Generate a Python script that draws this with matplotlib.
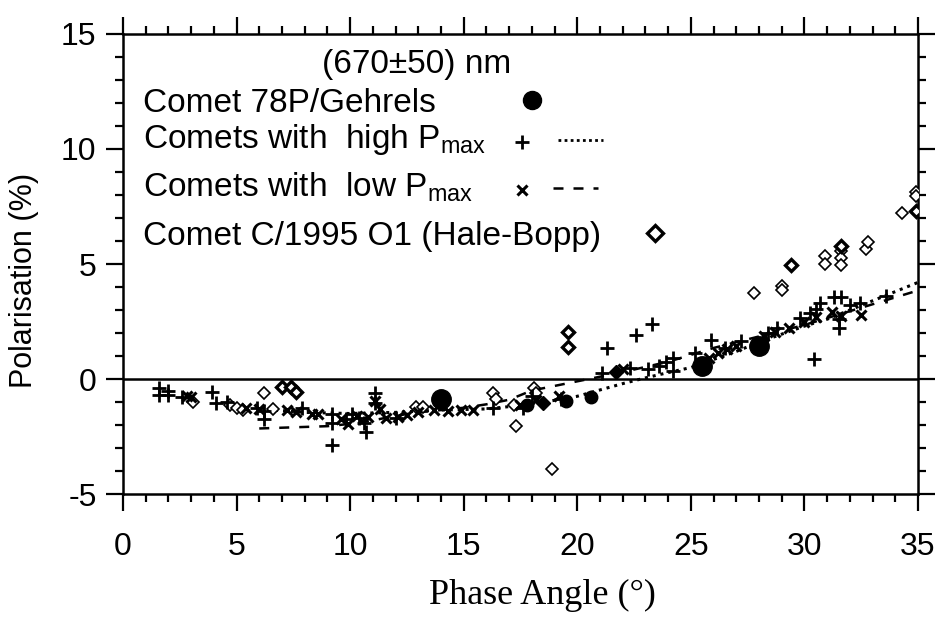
import matplotlib
matplotlib.use("Agg")
import matplotlib.pyplot as plt
from matplotlib.ticker import MultipleLocator

plt.rcParams['font.family'] = ['Liberation Sans', 'DejaVu Sans']
plt.rcParams['mathtext.fontset'] = 'custom'
plt.rcParams['mathtext.rm'] = 'Liberation Sans'
plt.rcParams['mathtext.it'] = 'Liberation Sans'
plt.rcParams['axes.unicode_minus'] = False

# Comet 78P/Gehrels (large filled circles)
gehrels_x = [14.0, 25.5, 28.0]
gehrels_y = [-0.85, 0.55, 1.45]

# smaller filled symbols (overlapping points)
filled_circ_x = [17.8, 19.5, 20.6]
filled_circ_y = [-1.15, -0.95, -0.8]
filled_dia_x = [18.5, 21.7]
filled_dia_y = [-1.05, 0.3]

# comets with high Pmax (+)
high_x = [1.6, 1.6, 2.0, 2.0, 2.6, 3.9, 4.1, 4.6, 5.9, 6.2, 6.2, 7.9, 9.2, 9.2, 9.2,
          9.8, 10.1, 10.4, 10.6, 10.7, 11.1, 11.1, 12.0, 16.3, 17.6, 18.0, 19.3,
          21.1, 21.3, 22.3, 22.6, 23.1, 23.3, 23.6, 23.9, 24.2, 24.2, 25.2, 25.9,
          26.5, 27.2, 28.4, 28.8, 29.8, 30.25, 30.4, 30.5, 30.7, 31.3, 31.6, 31.5,
          31.5, 32.0, 32.45, 33.6]
high_y = [-0.4, -0.7, -0.5, -0.7, -0.8, -0.55, -1.05, -1.0, -1.25, -1.4, -1.75, -1.25,
          -1.5, -1.9, -2.85, -1.75, -1.5, -1.7, -1.9, -2.3, -0.6, -1.05, -1.7, -1.25,
          -1.25, -0.75, -0.85, 0.25, 1.35, 0.5, 1.9, 0.45, 2.4, 0.55, 0.75, 0.9, 0.35,
          1.15, 1.7, 1.35, 1.65, 2.0, 2.2, 2.65, 2.85, 0.85, 3.05, 3.3, 3.55, 3.55,
          2.2, 2.6, 3.2, 3.3, 3.6]

# comets with low Pmax (x)
low_x = [2.8, 3.0, 5.4, 6.0, 7.2, 7.6, 8.3, 8.6, 9.6, 9.9, 10.3, 10.8, 11.1, 11.3,
         11.6, 12.1, 12.5, 13.0, 13.7, 14.3, 14.9, 15.4, 17.5, 18.2, 19.2, 22.0,
         25.8, 26.2, 26.6, 27.0, 28.2, 28.7, 29.3, 30.0, 30.5, 31.2, 31.6, 32.5]
low_y = [-0.75, -0.8, -1.25, -1.3, -1.35, -1.45, -1.5, -1.5, -1.75, -1.95, -1.6,
         -1.65, -0.95, -1.3, -1.7, -1.65, -1.55, -1.45, -1.35, -1.4, -1.35, -1.35,
         -1.15, -0.9, -0.75, 0.45, 0.9, 1.15, 1.3, 1.45, 1.85, 2.05, 2.2, 2.5, 2.7,
         2.9, 2.75, 2.8]

# Hale-Bopp (open diamonds)
hb_x = [3.1, 4.7, 5.0, 5.3, 6.2, 6.6, 12.9, 13.2, 16.3, 16.4, 17.2, 17.3, 18.1,
        18.2, 18.9, 27.8, 29.0, 29.0, 30.9, 30.9, 31.6, 31.6, 31.6, 32.7, 32.8,
        34.3, 34.9, 34.9]
hb_y = [-1.0, -1.15, -1.25, -1.35, -0.6, -1.3, -1.2, -1.2, -0.6, -0.85, -1.15,
        -2.05, -0.4, -0.6, -3.9, 3.75, 4.05, 3.85, 5.35, 5.0, 5.55, 5.25, 4.95,
        5.65, 5.95, 7.2, 8.15, 7.95]
hb_bold_x = [7.0, 7.4, 7.6, 19.6, 19.6, 29.4, 31.6, 34.9]
hb_bold_y = [-0.35, -0.35, -0.55, 2.05, 1.4, 4.95, 5.8, 7.3]

# fitted curves
fit_high_x = [6, 8, 10, 12, 14, 16, 18, 20, 22, 23, 24, 25, 26, 27, 28, 29, 30,
              31, 32, 33, 34, 35]
fit_high_y = [-1.3, -1.45, -1.5, -1.45, -1.35, -1.3, -1.1, -0.75, -0.2, 0.05, 0.28,
              0.5, 0.85, 1.2, 1.6, 1.95, 2.3, 2.6, 3.0, 3.4, 3.8, 4.2]
fit_low_x = [6, 9, 10, 11, 12, 13, 14, 15, 16, 17, 18, 19, 20, 21, 22, 24, 26, 28,
             30, 32, 35]
fit_low_y = [-2.15, -2.05, -1.95, -1.8, -1.6, -1.45, -1.35, -1.25, -1.1, -0.9, -0.5,
             -0.3, -0.1, 0.1, 0.3, 0.75, 1.35, 1.85, 2.35, 2.95, 3.85]

fig = plt.figure(figsize=(9.43, 6.18), dpi=100)
ax = fig.add_axes([0.1304, 0.2006, 0.8431, 0.7444])

ax.axhline(0, color='black', lw=1.8, zorder=1)
ax.plot(fit_high_x, fit_high_y, color='black', ls=(0, (1, 1.6)), lw=2.2)
ax.plot(fit_low_x, fit_low_y, color='black', ls=(0, (4, 4)), lw=1.8)

ax.plot(hb_x, hb_y, 'D', ms=6.5, mfc='white', mec='black', mew=1.2, zorder=3)
ax.plot(hb_bold_x, hb_bold_y, 'D', ms=6.5, mfc='white', mec='black', mew=2.4, zorder=3)
ax.plot(high_x, high_y, '+', ms=9.5, color='black', mew=2.0, zorder=4)
ax.plot(low_x, low_y, 'x', ms=7, color='black', mew=2.2, zorder=4)
ax.plot(filled_circ_x, filled_circ_y, 'o', ms=9, color='black', zorder=5)
ax.plot(filled_dia_x, filled_dia_y, 'D', ms=7, color='black', zorder=5)
ax.plot(gehrels_x, gehrels_y, 'o', ms=14, color='black', zorder=6)

# legend drawn by hand, like the original
fs = 24
tr = ax.transAxes
ax.text(0.369, 0.915, '(670\u00b150) nm', transform=tr, ha='center',
        va='baseline', fontsize=fs)
ax.text(0.025, 0.830, 'Comet 78P/Gehrels', transform=tr, va='baseline', fontsize=fs)
ax.plot([0.514], [0.857], 'o', ms=13, color='black', transform=tr)
ax.text(0.025, 0.752, 'Comets with  high P$_{\\mathrm{max}}$', transform=tr,
        va='baseline', fontsize=fs)
ax.plot([0.502], [0.765], '+', ms=9.5, mew=2.0, color='black', transform=tr)
ax.plot([0.547, 0.604], [0.770, 0.770], color='black', ls=(0, (1, 1.2)), lw=2.0,
        transform=tr)
ax.text(0.025, 0.646, 'Comets with  low P$_{\\mathrm{max}}$', transform=tr,
        va='baseline', fontsize=fs)
ax.plot([0.502], [0.661], 'x', ms=7, mew=2.2, color='black', transform=tr)
ax.plot([0.541, 0.597], [0.665, 0.665], color='black', ls=(0, (4, 4)), lw=1.8,
        transform=tr)
ax.text(0.025, 0.541, 'Comet C/1995 O1 (Hale-Bopp)', transform=tr,
        va='baseline', fontsize=fs)
ax.plot([0.669], [0.567], 'D', ms=8, mfc='white', mec='black', mew=2.4, transform=tr)

ax.set_xlim(0, 35)
ax.set_ylim(-5, 15)
ax.xaxis.set_major_locator(MultipleLocator(5))
ax.xaxis.set_minor_locator(MultipleLocator(1))
ax.yaxis.set_major_locator(MultipleLocator(5))
ax.yaxis.set_minor_locator(MultipleLocator(1))
ax.tick_params(which='both', direction='out', top=True, right=True, width=1.6,
               labelsize=23)
ax.tick_params(which='major', length=12)
ax.tick_params(which='minor', length=6)
ax.tick_params(axis='x', pad=15)
ax.tick_params(axis='y', pad=7)
for s in ax.spines.values():
    s.set_linewidth(1.8)

ax.set_ylabel('Polarisation (%)', fontsize=22)
ax.yaxis.set_label_coords(-0.105, 0.465)
ax.set_xlabel('Phase Angle (\u00b0)', fontsize=26, family='Liberation Serif')
ax.xaxis.set_label_coords(0.528, -0.185)

fig.savefig('out.png', dpi=100)
